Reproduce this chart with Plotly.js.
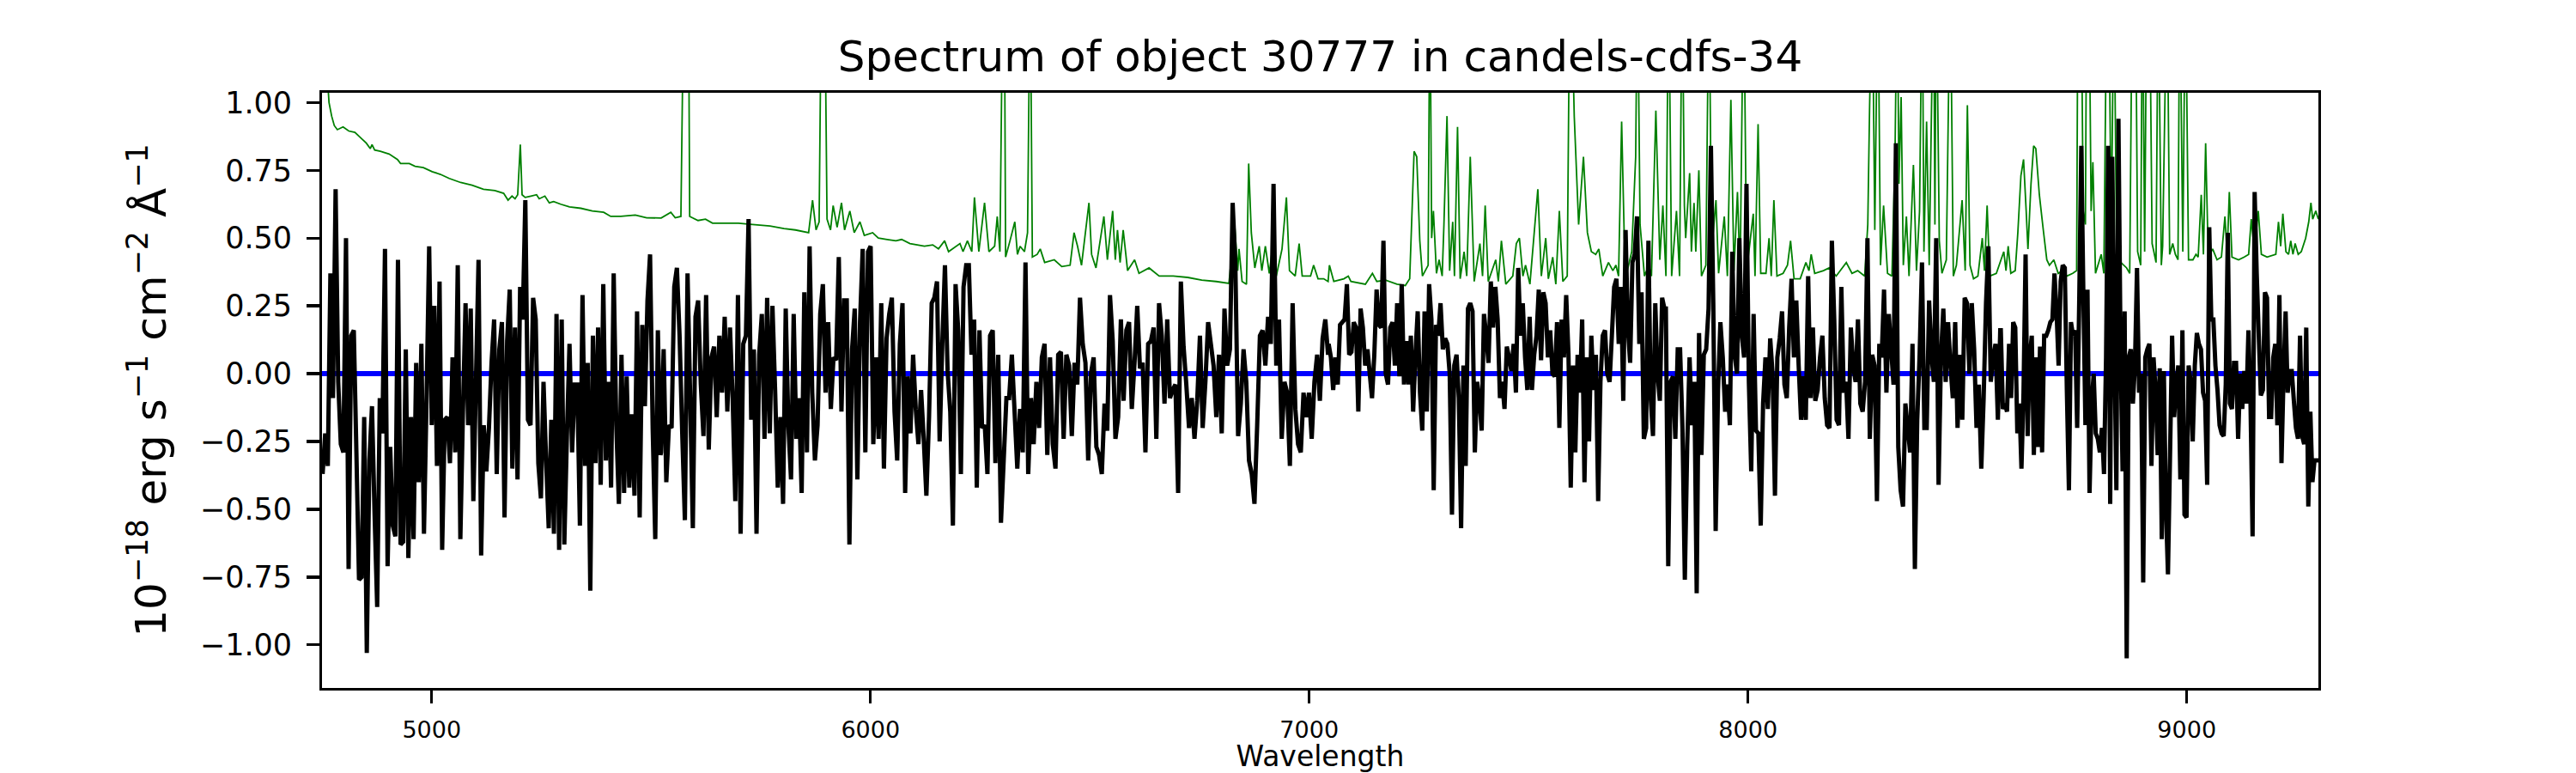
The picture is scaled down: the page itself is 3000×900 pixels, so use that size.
<!DOCTYPE html>
<html>
<head>
<meta charset="utf-8">
<script src="https://cdn.plot.ly/plotly-3.0.1.min.js"></script>
<style>html,body{margin:0;padding:0;background:#fff;}</style>
</head>
<body>
<div id="chart" style="width:3000px;height:900px;"></div>
<script>
// Flux (black) (10^-18 erg/s/cm^2/A)
const fluxSeg1 = [-0.37,-0.22,-0.34,0.37,-0.09,0.68,-0.03,-0.26,-0.29,0.50,
-0.72,0.14,0.16,-0.29,-0.76,-0.75,-0.16,-1.03,-0.32,-0.12,
-0.52,-0.86,-0.09,-0.22,0.46,-0.71,-0.27,-0.56,-0.60,0.42,
-0.63,-0.62,0.09,-0.68,-0.16,-0.61,0.04,-0.40,0.11,-0.59,
-0.09,0.47,-0.19,0.25,-0.34,0.34,-0.65,-0.17,-0.16,-0.33,
0.06,-0.29,0.40,-0.61,-0.14,0.26,-0.19,0.24,-0.47,-0.03,
0.42,-0.67,-0.19,-0.36,-0.20,0.04,0.20,-0.37,0.09,0.19,
-0.53,0.12,0.31,-0.35,0.17,-0.39,0.32,0.20,0.64,-0.17,
-0.19,0.28,0.20,-0.33,-0.46,-0.03,-0.32,-0.57,-0.17,-0.59,
0.22,-0.65,0.20,-0.63,-0.23,0.11,-0.29,-0.04,-0.04,-0.56,
0.29,-0.34,0.04,-0.80,0.14,-0.33,0.17,-0.41,0.33,-0.32,
-0.03,-0.42,0.37,-0.19,-0.48,0.07,-0.44,-0.01,-0.42,-0.15,
-0.45,0.23,-0.53,0.18,-0.12,0.27,0.44,-0.20,-0.61,0.16,-0.30];
const fluxSeg2 = [-0.29,0.09,-0.40,-0.19,-0.20,0.32,0.39,0.14,-0.22,-0.54,
0.37,-0.09,-0.57,0.21,0.27,-0.04,-0.23,0.29,-0.28,0.06,
0.10,-0.16,0.14,-0.07,0.21,-0.14,0.17,-0.09,-0.47,0.29,
-0.59,0.11,0.14,0.57,-0.17,0.09,-0.59,0.07,0.22,-0.24,
0.28,-0.22,0.25,-0.06,-0.42,-0.16,-0.48,0.24,-0.19,-0.39,
0.22,-0.24,-0.09,-0.44,0.30,-0.29,0.47,-0.07,-0.32,-0.19,
0.22,0.33,-0.07,0.19,-0.13,0.06,0.05,0.43,-0.14,0.27,
0.27,-0.63,0.09,0.24,-0.39,0.19,0.46,-0.29,0.45,0.47,
-0.26,0.06,-0.24,0.26,-0.35,0.13,0.22,0.28,-0.14,-0.32,
0.11,0.26,-0.44,-0.01,-0.22,0.07,-0.13,-0.26,-0.06,-0.24,
-0.45,-0.16,0.26,0.28,0.34,-0.25,0.11,0.40,0.01,-0.14,
-0.56,0.33,0.16,-0.37,0.32,0.40,0.40,0.07,0.20,-0.42,
0.16,-0.20,-0.19,-0.37,0.14,0.16,-0.33];
const fluxSeg3 = [0.07,-0.55,-0.32,-0.09,-0.09,0.07,-0.14,-0.35,-0.13,-0.29,
0.41,-0.37,-0.09,-0.26,-0.03,-0.20,0.06,0.11,-0.30,0.06,
-0.26,-0.35,0.07,0.08,-0.24,0.07,0.03,-0.23,0.04,-0.04,
0.28,0.11,0.04,-0.32,0.00,0.06,-0.27,-0.30,-0.37,-0.11,
-0.21,0.29,0.12,-0.24,-0.16,0.20,-0.10,0.16,0.19,-0.13,
0.04,0.25,0.02,0.04,-0.29,0.11,0.12,0.17,-0.24,0.26,
0.14,-0.11,0.20,-0.09,-0.06,-0.04,-0.44,0.34,0.10,-0.04,
-0.20,-0.09,-0.24,-0.10,0.14,-0.20,-0.03,0.19,0.11,0.03,
-0.16,0.07,-0.22,0.24,0.03,0.09,0.63,0.40,-0.23,-0.11,
0.09,-0.03,-0.32,-0.37,-0.48,-0.19,0.14,0.16,0.03,0.21,
0.11,0.70,0.03,0.20,-0.24,-0.03,-0.07,-0.34,0.26,-0.13,
-0.26,-0.29,-0.07,-0.16,-0.07,-0.24,-0.03,0.07,-0.10,0.13,
0.20,0.07];
const fluxSeg4 = [0.11,0.06,-0.06,0.06,-0.04,0.18,0.19,0.20,0.33,0.07,
0.08,0.19,0.17,-0.14,0.24,0.17,0.03,0.09,0.00,-0.09,
0.07,0.31,0.18,0.17,0.49,0.00,-0.04,0.17,0.19,0.03,
0.26,-0.01,0.33,-0.04,0.12,-0.04,0.14,-0.14,0.07,0.23,
-0.07,-0.21,0.23,-0.14,0.33,0.20,-0.43,0.18,0.14,0.26,
0.09,0.13,0.11,0.00,-0.52,0.03,0.07,-0.09,-0.57,0.03,
-0.34,0.24,0.26,0.23,-0.29,-0.03,-0.09,-0.21,0.22,0.14,
0.04,0.34,0.17,0.32,0.20,-0.09,-0.03,-0.13,0.10,0.06,
0.01,0.11,-0.07,0.39,0.14,0.26,0.06,-0.06,0.21,-0.06,
0.07,0.14,0.31,0.05,0.30,0.26,0.06,0.16,0.00,-0.01,
0.19,-0.20,0.20,0.06,0.29,0.07,-0.42,0.03,-0.29,0.07,
-0.07,0.20,-0.40,0.06,-0.25,0.14,-0.06,0.07,-0.47,-0.03,
0.14,0.16,0.00,-0.03,0.14,0.32,0.35,0.11,0.32,-0.10,
0.53,0.17,0.04,0.41,0.44,0.58,0.11,0.30,-0.24,-0.20,
0.49,-0.09,-0.23,0.26,0.00,-0.10,0.28,0.24];
const fluxSeg5 = [0.24,-0.71,-0.03,-0.01,-0.24,0.09,0.09,-0.20,-0.76,-0.27,
0.06,-0.19,-0.03,-0.81,0.15,-0.30,0.07,0.09,0.24,0.84,
0.26,-0.58,-0.06,0.19,0.06,-0.14,-0.04,-0.19,0.45,0.07,
0.00,0.50,0.14,0.06,0.70,-0.03,-0.36,0.22,-0.21,-0.22,
-0.56,-0.11,0.06,-0.13,0.13,0.00,-0.45,0.06,0.13,0.23,
-0.04,-0.09,0.17,0.35,0.06,0.27,0.03,-0.17,-0.01,-0.17,
0.36,-0.09,0.17,-0.10,-0.06,0.06,0.14,-0.09,-0.19,-0.20,
0.49,0.20,-0.17,-0.19,0.32,-0.07,-0.03,-0.24,0.17,0.03,
-0.03,0.20,-0.11,-0.14,-0.03,0.50,-0.24,0.07,0.03,-0.47,
0.11,0.06,0.31,-0.07,0.22,0.09,-0.04,0.85,-0.27,-0.43,
-0.49,-0.11,-0.20,-0.29,0.11,-0.72,-0.17,0.07,0.41,-0.20,
-0.20,0.27,0.07,-0.03,0.50,-0.41,0.06,0.24,-0.03,0.19,
0.03,-0.09,0.19,-0.20,0.07,-0.17,0.28,0.26,0.00,0.26,
0.09,-0.20,-0.04,-0.35,-0.09,0.26,0.47,-0.03,0.06,0.11,
-0.17,0.16];
const fluxSeg6 = [0.16,-0.13,-0.11,-0.14,0.11,-0.09,0.19,0.17,-0.22,-0.11,
-0.35,-0.07,0.44,-0.23,0.06,0.14,-0.30,0.06,-0.27,0.10,
-0.29,0.14,0.14,0.16,0.19,0.20,0.37,0.23,0.03,0.34,
0.40,0.39,-0.06,-0.43,0.19,0.14,0.16,-0.20,0.27,0.84,
0.29,-0.19,0.31,-0.44,-0.11,0.00,-0.22,-0.24,-0.29,-0.20,
-0.37,0.06,0.84,-0.48,0.80,0.14,-0.43,0.94,0.10,-0.36,
0.23,-1.05,0.06,0.09,-0.11,0.03,0.39,-0.07,0.00,-0.77,
0.06,0.09,0.11,-0.34,0.06,-0.06,-0.30,0.02,-0.61,0.01,
-0.49,-0.74,-0.30,0.14,-0.16,-0.04,0.03,-0.39,0.16,-0.52,
-0.53,0.03,-0.03,-0.25,0.03,0.15,0.11,0.09,-0.07,-0.10,
-0.41,0.54,0.20,0.20,0.03,-0.06,-0.19,-0.22,-0.23,-0.04,
0.52,-0.11,-0.13,0.04,0.04,-0.24,0.00,-0.13,0.01,-0.11,
0.16,-0.11,-0.60,0.67,0.37,0.14,-0.08,-0.06,0.30,0.28,
-0.16,-0.16,0.06,0.11,-0.19,0.29,-0.33,-0.01,0.23,-0.07,
0.01,0.01,-0.10,-0.20,-0.24,0.14,-0.23,-0.26,0.17,-0.49,
-0.14,-0.40,-0.32,-0.32,-0.32];
// wavelength span (Angstrom) covered by each flux segment (pixels on a regular grid)
const segStart = [4751.4, 5522.6, 6291.2, 7044.2, 7812.8, 8576.2];
const segEnd   = [5521.4, 6284.7, 7042.9, 7809.5, 8574.9, 9300.5];

// Sky / noise spectrum (green), vertices
const skyWave = [4751,4760,4766,4772,4778,4785,4798,4811,4825,4838,4851,4860,4864,4870,4883,4903,4922,4929,4949,4962,4981,5001,5020,5040,5066,5092,5118,5144,5164,5174,5183,5190,5196,5202,5206,5213,5226,5239,5245,5258,5268,5278,5294,5314,5340,5366,5392,5408,5431,5464,5490,
5523,5545,5555,5568,5575,5578,5585,5588,5607,5624,5640,5673,5699,5731,5771,5803,5829,5859,5868,5876,5883,5888,5893,5896,5901,5909,5915,5924,5934,5941,5953,5963,5976,5986,6005,6018,6038,6058,6071,6090,6123,6142,6155,6169,6178,6204,6211,6221,6231,6237,6247,6260,6270,
6283,6289,6295,6302,6305,6308,6318,6329,6335,6341,6351,6358,6364,6369,6380,6387,6397,6419,6436,6455,6464,6472,6481,6498,6504,6514,6532,6540,6552,6558,6563,6569,6576,6586,6602,6612,6635,6658,6690,6723,6755,6788,6817,6830,6837,6840,6847,6857,6862,6868,6876,6886,6892,6900,6909,6919,6925,6938,6948,6955,6968,6977,6984,7003,7010,7020,7033,
7043,7046,7056,7079,7089,7095,7128,7144,7154,7174,7200,7219,7229,7239,7245,7252,7258,7271,7275,7279,7283,7290,7296,7303,7307,7314,7320,7327,7331,7338,7344,7353,7359,7367,7376,7389,7395,7401,7408,7425,7431,7438,7448,7464,7472,7479,7487,7493,7503,7521,7529,7539,7545,7555,7562,7570,7578,7588,7594,7599,7604,7614,7625,7634,7643,7653,7660,7669,7682,7692,7699,7705,7712,7718,7725,7735,7744,7748,7754,7764,7774,7780,7790,7799,7806,
7813,7819,7826,7837,7844,7850,7855,7858,7867,7871,7877,7881,7888,7894,7904,7911,7917,7927,7933,7946,7953,7961,7968,7976,7982,7990,7997,8012,8016,8023,8029,8041,8048,8053,8059,8066,8080,8090,8097,8105,8119,8132,8139,8144,8152,8172,8185,8201,8224,8237,8250,8266,8273,8277,8283,8289,8296,8302,8309,8318,8328,8335,8340,8344,8349,8354,8361,8367,8377,8384,8391,8397,8401,8407,8413,8423,8426,8429,8436,8442,8452,8461,8468,8475,8488,8495,8500,8506,8514,8524,8534,8539,8545,8551,8566,
8583,8588,8593,8599,8609,8615,8622,8628,8634,8638,8645,8651,8656,8664,8673,8681,8687,8697,8707,8717,8727,8740,8749,8752,8759,8764,8769,8772,8777,8782,8786,8792,8805,8811,8818,8823,8828,8834,8840,8850,8863,8870,8876,8883,8888,8895,8899,8904,8909,8915,8921,8925,8930,8935,8942,8945,8955,8961,8968,8974,8980,8984,8991,8997,9004,9014,9021,9026,9033,9038,9043,9049,9059,9069,9079,9087,9092,9097,9103,9118,9131,9141,9147,9154,9163,9170,9183,9203,9209,9214,9219,9226,9232,9237,9242,9247,9254,9261,9271,9278,9283,9287,9294,9300];
const skyFlux = [1.6,1.15,1.0,0.95,0.915,0.90,0.91,0.895,0.89,0.87,0.85,0.83,0.845,0.825,0.82,0.81,0.79,0.775,0.775,0.765,0.76,0.745,0.735,0.72,0.705,0.695,0.68,0.675,0.665,0.64,0.655,0.645,0.66,0.845,0.66,0.65,0.655,0.66,0.645,0.655,0.63,0.635,0.625,0.615,0.61,0.60,0.595,0.58,0.58,0.585,0.575,
0.574,0.595,0.575,0.58,1.5,1.6,1.5,0.58,0.565,0.57,0.555,0.555,0.555,0.55,0.545,0.535,0.53,0.52,0.64,0.53,0.56,1.4,1.1,1.4,0.57,0.53,0.62,0.54,0.63,0.53,0.60,0.52,0.56,0.51,0.52,0.50,0.495,0.49,0.495,0.48,0.47,0.475,0.46,0.49,0.45,0.48,0.45,0.49,0.45,0.65,0.45,0.63,0.45,
0.47,0.58,0.45,1.5,1.5,0.43,0.49,0.56,0.44,0.47,0.45,0.52,1.5,0.43,0.44,0.46,0.41,0.42,0.395,0.40,0.52,0.47,0.40,0.63,0.44,0.39,0.58,0.42,0.60,0.42,0.53,0.41,0.53,0.38,0.42,0.37,0.39,0.36,0.36,0.355,0.345,0.34,0.333,0.55,0.38,0.46,0.34,0.33,0.775,0.52,0.39,0.47,0.38,0.47,0.37,0.50,0.36,0.46,0.65,0.38,0.36,0.48,0.36,0.36,0.40,0.35,0.35,
0.34,0.40,0.34,0.35,0.36,0.34,0.33,0.37,0.34,0.345,0.33,0.325,0.35,0.82,0.80,0.49,0.36,0.40,1.5,0.50,0.60,0.37,0.42,0.36,0.55,0.95,0.38,0.56,0.36,0.91,0.35,0.45,0.36,0.80,0.34,0.48,0.36,0.62,0.34,0.42,0.34,0.49,0.33,0.36,0.48,0.50,0.36,0.40,0.33,0.68,0.36,0.50,0.35,0.43,0.33,0.60,0.34,0.36,1.5,1.3,0.95,0.55,0.80,0.52,0.45,0.44,0.46,0.36,0.41,0.38,0.40,0.36,0.93,0.50,0.38,0.45,0.80,1.5,0.55,0.36,0.40,0.36,0.97,0.42,0.62,
0.36,1.5,0.36,0.60,0.36,1.5,0.62,0.50,0.74,0.45,0.63,0.45,0.75,0.36,0.40,1.5,0.45,0.64,0.37,0.58,0.36,1.01,0.38,0.67,0.36,1.5,0.38,0.59,0.36,0.92,0.37,0.37,0.50,0.36,0.64,0.36,0.37,0.40,0.49,0.35,0.35,0.41,0.38,0.44,0.37,0.38,0.39,0.36,0.41,0.37,0.38,0.36,0.55,0.97,1.5,0.53,1.5,0.40,0.62,0.37,0.36,0.80,1.5,0.70,1.02,0.40,0.58,0.36,0.77,0.38,0.60,1.5,0.45,0.93,0.40,1.5,0.55,1.5,0.49,0.37,0.42,1.5,0.36,0.40,0.64,0.38,0.99,0.40,0.35,0.36,0.50,0.38,0.62,0.36,0.37,
0.45,0.38,0.47,0.37,0.38,0.52,0.73,0.79,0.60,0.46,0.70,0.84,0.83,0.66,0.53,0.42,0.40,0.42,0.37,0.38,0.36,0.37,0.38,1.5,1.5,0.60,0.55,1.5,1.5,0.60,0.78,0.37,0.44,0.37,1.5,1.3,0.50,1.5,0.44,0.41,0.39,0.37,1.5,1.5,0.45,0.40,1.5,0.45,1.5,1.5,0.48,0.45,0.41,1.5,0.40,0.47,1.5,0.44,0.48,0.44,0.42,1.5,0.45,1.5,0.42,0.42,0.44,0.43,0.66,0.44,0.85,0.43,0.46,0.42,0.43,0.58,0.44,0.67,0.43,0.42,0.43,0.44,0.57,0.45,0.60,0.44,0.43,0.44,0.56,0.47,0.59,0.45,0.44,0.49,0.44,0.48,0.44,0.45,0.50,0.56,0.63,0.57,0.60,0.57];

const zeroLevel = 0;
const xTickVals = [5000, 6000, 7000, 8000, 9000];
const yTickVals = [-1.0, -0.75, -0.5, -0.25, 0.0, 0.25, 0.5, 0.75, 1.0];
const xRange = [4750, 9300];
const yRange = [-1.159, 1.036];

const segments = [fluxSeg1, fluxSeg2, fluxSeg3, fluxSeg4, fluxSeg5, fluxSeg6];
const wave = [], flux = [];
segments.forEach(function(seg, i) {
  const n = seg.length;
  for (let k = 0; k < n; k++) {
    wave.push(segStart[i] + (segEnd[i] - segStart[i]) * k / (n - 1));
    flux.push(seg[k]);
  }
});

const traces = [
  {x: skyWave, y: skyFlux, type: 'scatter', mode: 'lines',
   line: {color: '#008000', width: 1.8, simplify: false}, hoverinfo: 'skip'},
  {x: xRange, y: [zeroLevel, zeroLevel], type: 'scatter', mode: 'lines',
   line: {color: '#0000ff', width: 6}, hoverinfo: 'skip'},
  {x: wave, y: flux, type: 'scatter', mode: 'lines',
   line: {color: '#000000', width: 5, simplify: false}, hoverinfo: 'skip'}
];

const axisCommon = {
  showline: true, linecolor: '#000', linewidth: 3.3, mirror: true,
  ticks: 'outside', ticklen: 14.6, tickwidth: 3.3, tickcolor: '#000',
  showgrid: false, zeroline: false
};

const layout = {
  width: 3000, height: 900,
  paper_bgcolor: '#ffffff', plot_bgcolor: '#ffffff',
  margin: {l: 375, r: 300, t: 108, b: 99, pad: 0},
  showlegend: false,
  font: {family: 'DejaVu Sans', color: '#000'},
  title: {text: 'Spectrum of object 30777 in candels-cdfs-34',
          font: {family: 'DejaVu Sans', size: 50, color: '#000'},
          xref: 'paper', x: 0.5, xanchor: 'center',
          yref: 'container', y: 0.927, yanchor: 'middle'},
  xaxis: Object.assign({}, axisCommon, {
    range: xRange, tickvals: xTickVals, ticktext: xTickVals.map(String),
    tickfont: {size: 27, family: 'DejaVu Sans'}, ticklabelstandoff: 8,
    title: {text: 'Wavelength', font: {size: 33, family: 'DejaVu Sans'}, standoff: 4}
  }),
  yaxis: Object.assign({}, axisCommon, {
    range: yRange, tickvals: yTickVals, tickformat: '.2f',
    tickfont: {size: 35, family: 'DejaVu Sans'}, ticklabelstandoff: 10,
    title: {text: '10<sup>\u221218</sup> erg s<sup>\u22121</sup> cm<sup>\u22122</sup> \u00c5<sup>\u22121</sup>',
            font: {size: 50, family: 'DejaVu Sans'}, standoff: 24}
  })
};

Plotly.newPlot('chart', traces, layout, {staticPlot: true, displayModeBar: false});
</script>
</body>
</html>
